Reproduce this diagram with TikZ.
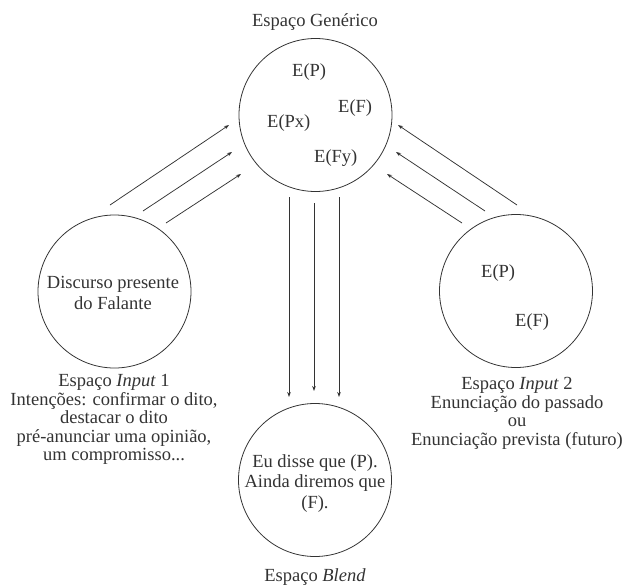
\documentclass[tikz,border=0pt]{standalone}
\usepackage{fontspec}
\setmainfont{Liberation Serif}
\usetikzlibrary{arrows.meta}
\definecolor{ink}{HTML}{333333}
\tikzset{
  space/.style={circle, draw=ink, line width=0.8pt, minimum size=153pt, inner sep=0pt},
  lbl/.style={text=ink, inner sep=0pt, align=center, font=\fontsize{18.5}{18.5}\selectfont},
  ctext/.style={text=ink, inner sep=0pt, align=center, font=\fontsize{18.5}{20.5}\selectfont},
  elbl/.style={text=ink, inner sep=0pt, anchor=base west, font=\fontsize{18.5}{20}\selectfont},
  map/.style={draw=ink, line width=0.75pt, -{Stealth[length=5pt,width=3.6pt]}}
}
\begin{document}
\begin{tikzpicture}[x=1pt,y=-1pt]
\useasboundingbox (0,0) rectangle (627,587);
% circles
\node[space] (gen) at (315.5,115) {};
\node[space] (in1) at (114.5,291.5) {};
\node[space] (in2) at (516,291) {};
\node[space] (bl) at (315,480) {};
% titles
\node[lbl, anchor=base] (tgen) at (315,26) {Espaço Genérico};
\node[lbl, anchor=base] (tbl) at (315,581.5) {Espaço \textit{Blend}};
\node[lbl] (t1) at (114,419.5) {Espaço \textit{Input} 1\\Intenções: confirmar o dito,\\destacar o dito\\pré-anunciar uma opinião,\\um compromisso...};
\node[lbl] (t2) at (517,413.5) {Espaço \textit{Input} 2\\Enunciação do passado\\ou\\Enunciação prevista (futuro)};
% circle contents
\node[elbl] (gp) at (292,76) {E(P)};
\node[elbl] (gf) at (338,112) {E(F)};
\node[elbl] (gpx) at (267,127) {E(Px)};
\node[elbl] (gfy) at (314,162) {E(Fy)};
\node[elbl] (rp) at (481,277) {E(P)};
\node[elbl] (rf) at (515,326) {E(F)};
\node[ctext] (dtxt) at (113,293) {Discurso presente\\do Falante};
\node[ctext] (btxt) at (315,483.5) {Eu disse que (P).\\Ainda diremos que\\(F).};
% arrow endpoints
\coordinate (l1s) at (110,205); \coordinate (l1e) at (229,125);
\coordinate (l2s) at (143,211); \coordinate (l2e) at (232,152);
\coordinate (l3s) at (166,223); \coordinate (l3e) at (241,174);
\coordinate (r1s) at (517,205); \coordinate (r1e) at (398,125);
\coordinate (r2s) at (485,211); \coordinate (r2e) at (396,152);
\coordinate (r3s) at (462,223); \coordinate (r3e) at (387,174);
\coordinate (v1s) at (289,197); \coordinate (v1e) at (289,397);
\coordinate (v2s) at (314,203); \coordinate (v2e) at (314,391);
\coordinate (v3s) at (339,197); \coordinate (v3e) at (339,397);
\draw[map] (l1s) -- (l1e);
\draw[map] (l2s) -- (l2e);
\draw[map] (l3s) -- (l3e);
\draw[map] (r1s) -- (r1e);
\draw[map] (r2s) -- (r2e);
\draw[map] (r3s) -- (r3e);
\draw[map] (v1s) -- (v1e);
\draw[map] (v2s) -- (v2e);
\draw[map] (v3s) -- (v3e);
\end{tikzpicture}
\end{document}
